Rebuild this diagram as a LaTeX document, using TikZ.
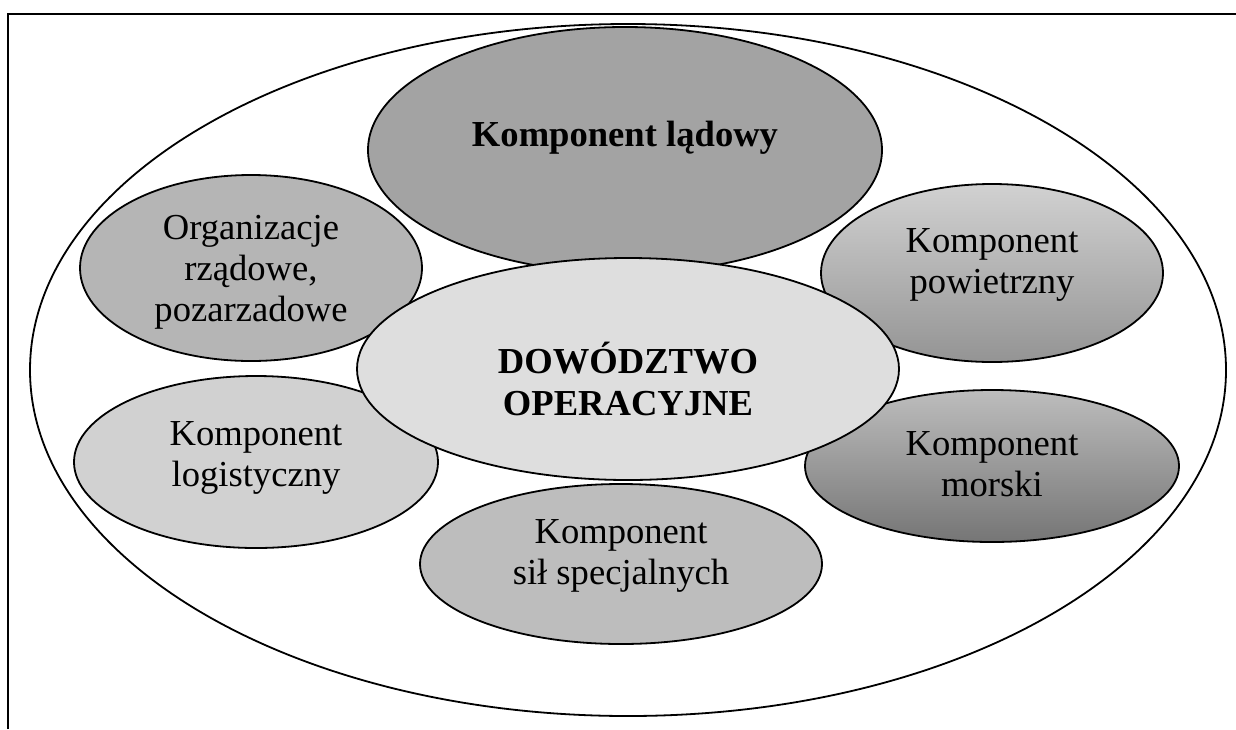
\documentclass[tikz,border=0pt]{standalone}
\usepackage{fontspec}
\setmainfont{Liberation Serif}
\usetikzlibrary{shapes.geometric}

\begin{document}
\begin{tikzpicture}[x=0.5pt, y=-0.5pt,
	comp/.style={ellipse, draw, line width=0.9pt, inner sep=0pt},
	txt/.style={align=center, inner sep=0pt, font=\fontsize{18.3}{20.5}\selectfont},
	boldtxt/.style={txt, font=\fontsize{18.3}{21}\selectfont\bfseries}]
	\useasboundingbox (0,0) rectangle (1236,729);
	\draw[line width=1.2pt] (8,729) -- (8,14) -- (1236,14);
	\node[comp, minimum width=598pt, minimum height=346pt] (outer) at (628,370) {};
	% components
	\node[comp, fill=black!36, minimum width=257pt, minimum height=123pt] (land) at (625,150) {};
	\node[comp, fill=black!29, minimum width=171pt, minimum height=93pt] (ngo) at (251,268) {};
	\node[comp, shade, top color=black!18, bottom color=black!42, minimum width=171pt, minimum height=89pt] (air) at (992,273) {};
	\node[comp, fill=black!18, minimum width=182pt, minimum height=86pt] (logi) at (256,462) {};
	\node[comp, shade, top color=black!26, bottom color=black!54, minimum width=187pt, minimum height=76pt] (sea) at (992,466) {};
	\node[comp, fill=black!26, minimum width=201pt, minimum height=80pt] (sof) at (621,564) {};
	\node[comp, fill=black!13, minimum width=271pt, minimum height=111pt] (cmd) at (628,369) {};
	% labels
	\node[boldtxt] (landtext) at ([yshift=6pt]land.center) {Komponent lądowy};
	\node[txt] (ngotext) at ([yshift=-2pt]ngo.center) {Organizacje\\rządowe,\\pozarzadowe};
	\node[txt] (airtext) at ([yshift=4pt]air.center) {Komponent\\powietrzny};
	\node[txt] (logitext) at ([yshift=2pt]logi.center) {Komponent\\logistyczny};
	\node[txt] (seatext) at ([yshift=1pt]sea.center) {Komponent\\morski};
	\node[txt] (softext) at ([yshift=4pt]sof.center) {Komponent\\sił specjalnych};
	\node[boldtxt] (cmdtext) at ([yshift=-5pt]cmd.center) {DOWÓDZTWO\\OPERACYJNE};
\end{tikzpicture}
\end{document}
